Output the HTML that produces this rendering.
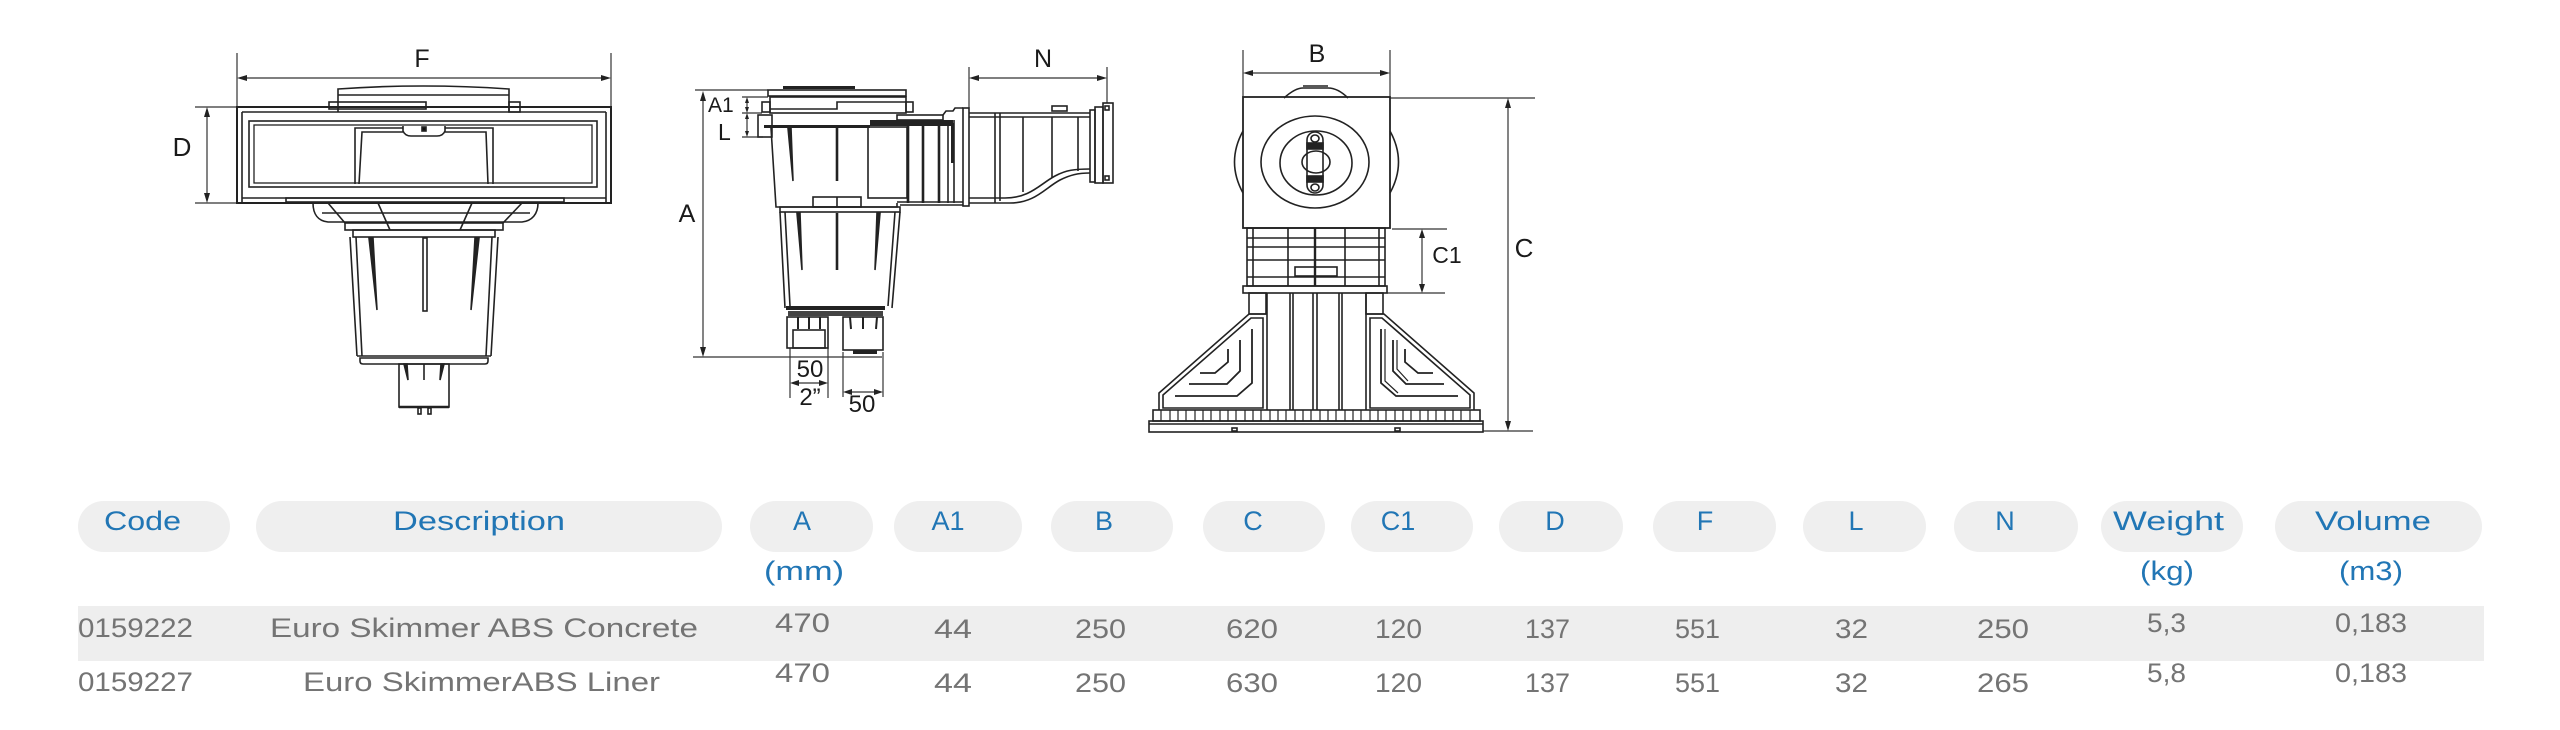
<!DOCTYPE html>
<html>
<head>
<meta charset="utf-8">
<style>
html,body{margin:0;padding:0;background:#fff;}
svg{display:block;}
.h{font-family:"Liberation Sans",Arial,sans-serif;font-size:27px;fill:#2176b5;}
.d{font-family:"Liberation Sans",Arial,sans-serif;font-size:27px;fill:#747474;}
.lbl{font-family:"Liberation Sans",Arial,sans-serif;fill:#1a1a1a;stroke:none;}
</style>
</head>
<body>
<svg width="2560" height="730" viewBox="0 0 2560 730" xmlns="http://www.w3.org/2000/svg">
<rect x="0" y="0" width="2560" height="730" fill="#fff"/>

<!-- ================= DRAWING 1 ================= -->
<g stroke="#222" fill="none" stroke-width="1.6">
  <g stroke="#333" stroke-width="1.2">
    <line x1="237" y1="53" x2="237" y2="107"/>
    <line x1="611" y1="53" x2="611" y2="107"/>
    <line x1="242" y1="78" x2="606" y2="78"/>
    <line x1="195" y1="107" x2="237" y2="107"/>
    <line x1="195" y1="203" x2="237" y2="203"/>
    <line x1="207" y1="112" x2="207" y2="198"/>
  </g>
  <g fill="#222" stroke="none">
    <polygon points="237,78 247,75 247,81"/>
    <polygon points="611,78 601,75 601,81"/>
    <polygon points="207,107 204,117 210,117"/>
    <polygon points="207,203 204,193 210,193"/>
  </g>
  <text class="lbl" x="422" y="67" font-size="25" text-anchor="middle">F</text>
  <text class="lbl" x="182" y="156" font-size="26" text-anchor="middle">D</text>

  <path d="M338,112 L338,89 Q423,83 509,89 L509,112"/>
  <line x1="338" y1="95" x2="509" y2="95"/>
  <rect x="329" y="102" width="97" height="7"/>
  <rect x="509" y="102" width="11" height="10"/>
  <rect x="237" y="107" width="374" height="96" stroke-width="2"/>
  <line x1="242" y1="112" x2="606" y2="112"/>
  <line x1="242" y1="112" x2="242" y2="203"/>
  <line x1="606" y1="112" x2="606" y2="203"/>
  <line x1="242" y1="198" x2="606" y2="198"/>
  <rect x="249" y="121" width="348" height="66"/>
  <rect x="254" y="125" width="338" height="58" stroke-width="1.3"/>
  <path d="M355,184 L355,128 L403,128 M445,128 L493,128 L493,184"/>
  <path d="M359,184 L362,132 L403,132 M445,132 L486,132 L488,184"/>
  <path d="M403,126 L403,131 Q405,136 411,136 L437,136 Q443,136 445,131 L445,126"/>
  <rect x="422" y="127" width="4" height="4" fill="#111"/>
  <rect x="286" y="198" width="278" height="4"/>
  <path d="M313,203 C313,214 318,221 328,222 L522,222 C532,221 538,214 538,203"/>
  <line x1="322" y1="213" x2="530" y2="213"/>
  <line x1="328" y1="203" x2="345" y2="223"/>
  <line x1="522" y1="203" x2="503" y2="223"/>
  <line x1="378" y1="203" x2="390" y2="230"/>
  <line x1="472" y1="203" x2="460" y2="230"/>
  <rect x="345" y="223" width="158" height="7"/>
  <rect x="353" y="230" width="142" height="7"/>
  <path d="M350,237 L357,356 M498,237 L491,356"/>
  <path d="M356,237 L362,356 M492,237 L486,356"/>
  <line x1="357" y1="356" x2="491" y2="356"/>
  <path d="M360,358 L488,358 L488,361 Q488,364 485,364 L363,364 Q360,364 360,361 Z"/>
  <polygon points="369,238 373,238 377,310" fill="#222"/>
  <rect x="423" y="238" width="4" height="73"/>
  <polygon points="479,238 475,238 471,310" fill="#222"/>
  <rect x="399" y="364" width="50" height="43"/>
  <line x1="399" y1="407" x2="449" y2="407" stroke-width="2.6"/>
  <polygon points="404,364 407,364 408,380" fill="#222"/>
  <polygon points="444,364 441,364 440,380" fill="#222"/>
  <line x1="424" y1="364" x2="424" y2="380"/>
  <rect x="418" y="408" width="3" height="6"/>
  <rect x="428" y="408" width="3" height="6"/>
</g>

<!-- ================= DRAWING 2 ================= -->
<g stroke="#222" fill="none" stroke-width="1.6">
  <g stroke="#333" stroke-width="1.2">
    <line x1="695" y1="90" x2="768" y2="90"/>
    <line x1="693" y1="357" x2="882" y2="357"/>
    <line x1="703" y1="96" x2="703" y2="352"/>
    <line x1="742" y1="97" x2="768" y2="97"/>
    <line x1="742" y1="113" x2="762" y2="113"/>
    <line x1="742" y1="137" x2="763" y2="137"/>
    <line x1="747" y1="101" x2="747" y2="109"/>
    <line x1="747" y1="117" x2="747" y2="133"/>
    <line x1="969" y1="67" x2="969" y2="108"/>
    <line x1="1107" y1="67" x2="1107" y2="103"/>
    <line x1="974" y1="78" x2="1102" y2="78"/>
    <line x1="790" y1="348" x2="790" y2="398"/>
    <line x1="828" y1="348" x2="828" y2="398"/>
    <line x1="795" y1="383" x2="823" y2="383"/>
    <line x1="843" y1="352" x2="843" y2="397"/>
    <line x1="883" y1="352" x2="883" y2="397"/>
    <line x1="848" y1="392" x2="878" y2="392"/>
  </g>
  <g fill="#222" stroke="none">
    <polygon points="703,91 700,101 706,101"/>
    <polygon points="703,357 700,347 706,347"/>
    <polygon points="747,97 745,103 749,103"/>
    <polygon points="747,113 745,107 749,107"/>
    <polygon points="747,113 745,119 749,119"/>
    <polygon points="747,137 745,131 749,131"/>
    <polygon points="969,78 979,75 979,81"/>
    <polygon points="1107,78 1097,75 1097,81"/>
    <polygon points="790,383 799,380 799,386"/>
    <polygon points="828,383 819,380 819,386"/>
    <polygon points="843,392 852,389 852,395"/>
    <polygon points="883,392 874,389 874,395"/>
  </g>
  <text class="lbl" x="687" y="222" font-size="25" text-anchor="middle">A</text>
  <text class="lbl" x="708" y="112" font-size="21">A1</text>
  <text class="lbl" x="718" y="140" font-size="23">L</text>
  <text class="lbl" x="1043" y="67" font-size="25" text-anchor="middle">N</text>
  <text class="lbl" x="810" y="377" font-size="24" text-anchor="middle">50</text>
  <text class="lbl" x="810" y="405" font-size="24" text-anchor="middle">2”</text>
  <text class="lbl" x="862" y="412" font-size="24" text-anchor="middle">50</text>

  <rect x="783" y="86" width="72" height="3" fill="#222" stroke="none"/>
  <rect x="768" y="90" width="138" height="6"/>
  <rect x="770" y="97" width="136" height="16"/>
  <path d="M770,109 L837,109 L837,102 L906,102"/>
  <rect x="762" y="102" width="8" height="10"/>
  <rect x="906" y="102" width="7" height="10"/>
  <rect x="758" y="115" width="14" height="22"/>
  <rect x="764" y="125" width="106" height="3" fill="#222" stroke="none"/>
  <rect x="870" y="120" width="83" height="6" fill="#222" stroke="none"/>
  <path d="M771,128 L776,207 L897,207 L897,203"/>
  <polygon points="788,128 791,128 793,181" fill="#222"/>
  <line x1="837" y1="128" x2="837" y2="181" stroke-width="2.6"/>
  <rect x="813" y="197" width="48" height="10"/>
  <line x1="837" y1="197" x2="837" y2="207"/>
  <rect x="868" y="127" width="39" height="71"/>
  <line x1="897" y1="202" x2="963" y2="202"/>
  <line x1="900" y1="205" x2="963" y2="205"/>
  <line x1="908" y1="120" x2="908" y2="203" stroke-width="2.6"/>
  <line x1="923" y1="120" x2="923" y2="203" stroke-width="2.6"/>
  <line x1="939" y1="120" x2="939" y2="203" stroke-width="2.6"/>
  <line x1="948" y1="120" x2="948" y2="203"/>
  <rect x="951" y="123" width="3" height="40" fill="#222" stroke="none"/>
  <line x1="954" y1="120" x2="954" y2="203"/>
  <rect x="897" y="115" width="46" height="5"/>
  <path d="M943,115 L946,111 L953,111 L955,108 L963,108"/>
  <rect x="963" y="108" width="6" height="98"/>
  <line x1="969" y1="113" x2="1090" y2="113"/>
  <line x1="969" y1="117" x2="1090" y2="117"/>
  <rect x="1052" y="106" width="15" height="5"/>
  <path d="M969,203 L1010,203 C1035,203 1045,188 1060,180 C1070,175 1078,173 1090,173"/>
  <path d="M969,198 L1005,198 C1030,198 1040,184 1055,176 C1066,170 1075,169 1090,169"/>
  <line x1="995" y1="113" x2="995" y2="203"/>
  <line x1="1000" y1="113" x2="1000" y2="201"/>
  <line x1="1023" y1="117" x2="1023" y2="192"/>
  <line x1="1052" y1="117" x2="1052" y2="178"/>
  <line x1="1078" y1="117" x2="1078" y2="171"/>
  <rect x="1090" y="110" width="5" height="72"/>
  <rect x="1095" y="107" width="8" height="76"/>
  <rect x="1103" y="103" width="10" height="80"/>
  <rect x="1105" y="106" width="4" height="4"/>
  <rect x="1105" y="176" width="4" height="4"/>
  <rect x="780" y="207" width="120" height="5"/>
  <path d="M780,212 L785,308 M900,212 L892,308"/>
  <path d="M785,212 L790,306 M895,212 L888,306"/>
  <polygon points="797,213 800,213 802,270" fill="#222"/>
  <line x1="837" y1="213" x2="837" y2="270" stroke-width="2.6"/>
  <polygon points="880,213 877,213 875,270" fill="#222"/>
  <rect x="786" y="306" width="99" height="4" fill="#222" stroke="none"/>
  <rect x="788" y="311" width="95" height="5" fill="#444" stroke="none"/>
  <rect x="787" y="317" width="41" height="31"/>
  <rect x="793" y="330" width="32" height="18"/>
  <line x1="798" y1="317" x2="798" y2="329" stroke-width="2"/>
  <line x1="809" y1="317" x2="809" y2="329" stroke-width="2"/>
  <line x1="820" y1="317" x2="820" y2="329" stroke-width="2"/>
  <rect x="843" y="317" width="40" height="33"/>
  <line x1="850" y1="317" x2="851" y2="329" stroke-width="2"/>
  <line x1="863" y1="317" x2="863" y2="329" stroke-width="2"/>
  <line x1="877" y1="317" x2="876" y2="329" stroke-width="2"/>
  <rect x="853" y="350" width="24" height="4" fill="#222" stroke="none"/>
</g>

<!-- ================= DRAWING 3 ================= -->
<g stroke="#222" fill="none" stroke-width="1.6">
  <g stroke="#333" stroke-width="1.2">
    <line x1="1243" y1="50" x2="1243" y2="97"/>
    <line x1="1390" y1="50" x2="1390" y2="97"/>
    <line x1="1248" y1="73" x2="1385" y2="73"/>
    <line x1="1390" y1="98" x2="1535" y2="98"/>
    <line x1="1483" y1="431" x2="1533" y2="431"/>
    <line x1="1508" y1="103" x2="1508" y2="426"/>
    <line x1="1392" y1="229" x2="1447" y2="229"/>
    <line x1="1387" y1="293" x2="1445" y2="293"/>
    <line x1="1422" y1="234" x2="1422" y2="288"/>
  </g>
  <g fill="#222" stroke="none">
    <polygon points="1243,73 1253,70 1253,76"/>
    <polygon points="1390,73 1380,70 1380,76"/>
    <polygon points="1508,98 1505,108 1511,108"/>
    <polygon points="1508,431 1505,421 1511,421"/>
    <polygon points="1422,229 1419,238 1425,238"/>
    <polygon points="1422,293 1419,284 1425,284"/>
  </g>
  <text class="lbl" x="1317" y="62" font-size="25" text-anchor="middle">B</text>
  <text class="lbl" x="1524" y="257" font-size="26" text-anchor="middle">C</text>
  <text class="lbl" x="1447" y="263" font-size="23" text-anchor="middle">C1</text>

  <path d="M1284,98 Q1295,88 1303,88 L1328,88 Q1338,88 1348,98"/>
  <line x1="1303" y1="86" x2="1328" y2="86"/>
  <rect x="1243" y="97" width="147" height="131" stroke-width="1.8"/>
  <path d="M1243,131 Q1226,162 1243,193"/>
  <path d="M1390,131 Q1407,162 1390,193"/>
  <ellipse cx="1315" cy="162" rx="54" ry="46"/>
  <ellipse cx="1316" cy="163" rx="36" ry="32"/>
  <rect x="1307" y="132" width="16" height="61" rx="8"/>
  <ellipse cx="1316" cy="162" rx="14" ry="11"/>
  <rect x="1307" y="143" width="16" height="6" fill="#222"/>
  <rect x="1307" y="176" width="16" height="6" fill="#222"/>
  <rect x="1311" y="135" width="8" height="7" rx="4"/>
  <rect x="1311" y="184" width="8" height="7" rx="4"/>
  <rect x="1247" y="228" width="138" height="58"/>
  <line x1="1247" y1="238" x2="1385" y2="238"/>
  <line x1="1247" y1="247" x2="1385" y2="247"/>
  <line x1="1247" y1="260" x2="1385" y2="260"/>
  <line x1="1247" y1="277" x2="1385" y2="277"/>
  <line x1="1253" y1="228" x2="1253" y2="286"/>
  <line x1="1288" y1="228" x2="1288" y2="286"/>
  <line x1="1315" y1="228" x2="1315" y2="286" stroke-width="2.4"/>
  <line x1="1345" y1="228" x2="1345" y2="286"/>
  <line x1="1379" y1="228" x2="1379" y2="286"/>
  <rect x="1295" y="267" width="42" height="9"/>
  <rect x="1243" y="286" width="144" height="7"/>
  <rect x="1249" y="293" width="17" height="21"/>
  <rect x="1366" y="293" width="17" height="21"/>
  <line x1="1267" y1="293" x2="1267" y2="410"/>
  <line x1="1290" y1="293" x2="1290" y2="410"/>
  <line x1="1293" y1="293" x2="1293" y2="410"/>
  <line x1="1313" y1="293" x2="1313" y2="410"/>
  <line x1="1317" y1="293" x2="1317" y2="410"/>
  <line x1="1339" y1="293" x2="1339" y2="410"/>
  <line x1="1342" y1="293" x2="1342" y2="410"/>
  <line x1="1366" y1="293" x2="1366" y2="410"/>
  <path d="M1266,314 L1249,314 L1159,393 L1159,410"/>
  <path d="M1263,318 L1251,318 L1163,395 L1163,408 L1263,408 Z"/>
  <path d="M1252,329 L1252,383 L1237,396 L1175,396" stroke-width="1.8"/>
  <path d="M1240,340 L1240,371 L1227,384 L1189,384" stroke-width="1.8"/>
  <path d="M1228,349 L1228,362 L1215,373 L1200,373" stroke-width="1.8"/>
  <path d="M1367,314 L1384,314 L1474,393 L1474,410"/>
  <path d="M1370,318 L1382,318 L1470,395 L1470,408 L1370,408 Z"/>
  <path d="M1381,329 L1381,383 L1396,396 L1458,396" stroke-width="1.8"/>
  <path d="M1385,329 L1385,381 L1398,393" stroke-width="1.2"/>
  <path d="M1393,340 L1393,371 L1406,384 L1444,384" stroke-width="1.8"/>
  <path d="M1397,340 L1397,369 L1408,381" stroke-width="1.2"/>
  <path d="M1405,349 L1405,362 L1418,373 L1433,373" stroke-width="1.8"/>
  <rect x="1153" y="410" width="327" height="11"/>
  <path d="M1161,410 V421 M1170,410 V421 M1178,410 V421 M1186,410 V421 M1195,410 V421 M1203,410 V421 M1211,410 V421 M1220,410 V421 M1228,410 V421 M1236,410 V421 M1245,410 V421 M1253,410 V421 M1261,410 V421 M1270,410 V421 M1278,410 V421 M1286,410 V421 M1295,410 V421 M1303,410 V421 M1311,410 V421 M1320,410 V421 M1328,410 V421 M1336,410 V421 M1345,410 V421 M1353,410 V421 M1361,410 V421 M1370,410 V421 M1378,410 V421 M1386,410 V421 M1395,410 V421 M1403,410 V421 M1411,410 V421 M1420,410 V421 M1428,410 V421 M1436,410 V421 M1445,410 V421 M1453,410 V421 M1461,410 V421 M1470,410 V421" stroke-width="1.2"/>
  <rect x="1149" y="421" width="334" height="11"/>
  <line x1="1149" y1="424" x2="1483" y2="424"/>
  <rect x="1232" y="428" width="5" height="3"/>
  <rect x="1395" y="428" width="5" height="3"/>
</g>

<!-- ================= TABLE ================= -->
<g fill="#efefef">
  <rect x="78" y="501" width="152" height="51" rx="25.5"/>
  <rect x="256" y="501" width="466" height="51" rx="25.5"/>
  <rect x="750" y="501" width="123" height="51" rx="25.5"/>
  <rect x="894" y="501" width="128" height="51" rx="25.5"/>
  <rect x="1051" y="501" width="122" height="51" rx="25.5"/>
  <rect x="1203" y="501" width="122" height="51" rx="25.5"/>
  <rect x="1351" y="501" width="122" height="51" rx="25.5"/>
  <rect x="1499" y="501" width="124" height="51" rx="25.5"/>
  <rect x="1653" y="501" width="123" height="51" rx="25.5"/>
  <rect x="1803" y="501" width="123" height="51" rx="25.5"/>
  <rect x="1954" y="501" width="124" height="51" rx="25.5"/>
  <rect x="2101" y="501" width="142" height="51" rx="25.5"/>
  <rect x="2275" y="501" width="207" height="51" rx="25.5"/>
</g>
<rect x="78" y="606" width="2406" height="55" fill="#eeeeee"/>

<text class="h" x="104" y="530" textLength="77" lengthAdjust="spacingAndGlyphs">Code</text>
<text class="h" x="393" y="530" textLength="172" lengthAdjust="spacingAndGlyphs">Description</text>
<text class="h" x="802" y="530" text-anchor="middle">A</text>
<text class="h" x="948" y="530" text-anchor="middle">A1</text>
<text class="h" x="1104" y="530" text-anchor="middle">B</text>
<text class="h" x="1253" y="530" text-anchor="middle">C</text>
<text class="h" x="1398" y="530" text-anchor="middle">C1</text>
<text class="h" x="1555" y="530" text-anchor="middle">D</text>
<text class="h" x="1705" y="530" text-anchor="middle">F</text>
<text class="h" x="1856" y="530" text-anchor="middle">L</text>
<text class="h" x="2005" y="530" text-anchor="middle">N</text>
<text class="h" x="2113" y="530" textLength="111" lengthAdjust="spacingAndGlyphs">Weight</text>
<text class="h" x="2315" y="530" textLength="116" lengthAdjust="spacingAndGlyphs">Volume</text>
<text class="h" x="764" y="580" textLength="80" lengthAdjust="spacingAndGlyphs">(mm)</text>
<text class="h" x="2140" y="580" textLength="54" lengthAdjust="spacingAndGlyphs">(kg)</text>
<text class="h" x="2339" y="580" textLength="64" lengthAdjust="spacingAndGlyphs">(m3)</text>

<text class="d" x="78" y="637" textLength="115" lengthAdjust="spacingAndGlyphs">0159222</text>
<text class="d" x="270" y="637" textLength="428" lengthAdjust="spacingAndGlyphs">Euro Skimmer ABS Concrete</text>
<text class="d" x="775" y="632" textLength="55" lengthAdjust="spacingAndGlyphs">470</text>
<text class="d" x="934" y="638" textLength="38" lengthAdjust="spacingAndGlyphs">44</text>
<text class="d" x="1075" y="638" textLength="51" lengthAdjust="spacingAndGlyphs">250</text>
<text class="d" x="1226" y="638" textLength="52" lengthAdjust="spacingAndGlyphs">620</text>
<text class="d" x="1375" y="638" textLength="47" lengthAdjust="spacingAndGlyphs">120</text>
<text class="d" x="1525" y="638" textLength="45" lengthAdjust="spacingAndGlyphs">137</text>
<text class="d" x="1675" y="638" textLength="45" lengthAdjust="spacingAndGlyphs">551</text>
<text class="d" x="1835" y="638" textLength="33" lengthAdjust="spacingAndGlyphs">32</text>
<text class="d" x="1977" y="638" textLength="52" lengthAdjust="spacingAndGlyphs">250</text>
<text class="d" x="2147" y="632" textLength="39" lengthAdjust="spacingAndGlyphs">5,3</text>
<text class="d" x="2335" y="632" textLength="72" lengthAdjust="spacingAndGlyphs">0,183</text>

<text class="d" x="78" y="691" textLength="115" lengthAdjust="spacingAndGlyphs">0159227</text>
<text class="d" x="303" y="691" textLength="357" lengthAdjust="spacingAndGlyphs">Euro SkimmerABS Liner</text>
<text class="d" x="775" y="682" textLength="55" lengthAdjust="spacingAndGlyphs">470</text>
<text class="d" x="934" y="692" textLength="38" lengthAdjust="spacingAndGlyphs">44</text>
<text class="d" x="1075" y="692" textLength="51" lengthAdjust="spacingAndGlyphs">250</text>
<text class="d" x="1226" y="692" textLength="52" lengthAdjust="spacingAndGlyphs">630</text>
<text class="d" x="1375" y="692" textLength="47" lengthAdjust="spacingAndGlyphs">120</text>
<text class="d" x="1525" y="692" textLength="45" lengthAdjust="spacingAndGlyphs">137</text>
<text class="d" x="1675" y="692" textLength="45" lengthAdjust="spacingAndGlyphs">551</text>
<text class="d" x="1835" y="692" textLength="33" lengthAdjust="spacingAndGlyphs">32</text>
<text class="d" x="1977" y="692" textLength="52" lengthAdjust="spacingAndGlyphs">265</text>
<text class="d" x="2147" y="682" textLength="39" lengthAdjust="spacingAndGlyphs">5,8</text>
<text class="d" x="2335" y="682" textLength="72" lengthAdjust="spacingAndGlyphs">0,183</text>
</svg>
</body>
</html>
